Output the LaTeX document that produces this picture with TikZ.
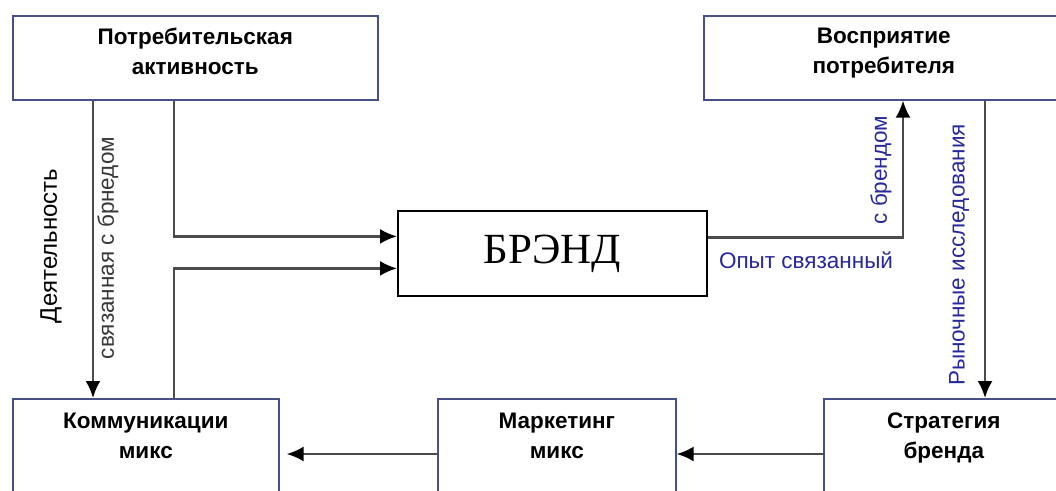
\documentclass[tikz,border=0pt]{standalone}
\usepackage{fontspec}
\setmainfont{Liberation Sans}
\newfontfamily\brandfont{Liberation Serif}
\usetikzlibrary{arrows.meta,calc}
\definecolor{boxline}{RGB}{70,80,135}
\definecolor{connline}{RGB}{75,75,75}
\definecolor{lblue}{RGB}{40,40,155}
\definecolor{lgray}{RGB}{55,55,55}
\tikzset{
  box/.style={draw=boxline, line width=1.6pt, rectangle, inner sep=0pt, anchor=north west},
  boxtext/.style={anchor=north, align=center, inner sep=0pt, font=\fontsize{22.5}{30}\selectfont\bfseries},
  conn/.style={draw=connline, line width=2.4pt, -{Latex[length=17pt,width=15pt,color=black]}},
  vlabel/.style={rotate=90, inner sep=0pt},
  blbl/.style={text=lblue, font=\fontsize{22.5}{25}\selectfont},
}
\begin{document}
\begin{tikzpicture}[x=1pt,y=-1pt]
\clip (0,0) rectangle (1056,490);
\fill[white] (0,0) rectangle (1056,490);
% boxes
\node[box, minimum width=365pt, minimum height=84pt] (act) at (12,15) {};
\node[box, minimum width=360pt, minimum height=84pt] (perc) at (703,15) {};
\node[box, draw=black, line width=1.8pt, minimum width=309pt, minimum height=85pt] (brand) at (397,210) {};
\node[box, minimum width=266pt, minimum height=120pt] (comm) at (12,398) {};
\node[box, minimum width=238pt, minimum height=120pt] (mark) at (437,398) {};
\node[box, minimum width=240pt, minimum height=120pt] (strat) at (823,398) {};
% box texts
\node[boxtext] (actT) at ([yshift=-13pt]act.north) {Потребительская\\активность};
\node[boxtext] (percT) at ([yshift=-13pt]perc.north) {Восприятие\\потребителя};
\node[font=\brandfont\fontsize{43}{45}\selectfont] (brandT) at (brand.center) {БРЭНД};
\node[boxtext] (commT) at ([yshift=-15pt]comm.north) {Коммуникации\\микс};
\node[boxtext] (markT) at ([yshift=-15pt]mark.north) {Маркетинг\\микс};
\node[boxtext] (stratT) at ([yshift=-15pt]strat.north) {Стратегия\\бренда};
% connectors
\draw[conn] ([xshift=162pt]act.south west) |- ([yshift=17pt]brand.west);
\draw[conn] ([xshift=162pt]comm.north west) |- ([yshift=-15pt]brand.west);
\draw[conn] ([xshift=81pt]act.south west) -- ([xshift=81pt]comm.north west);
\draw[conn] ([yshift=16pt]brand.east) -| ([xshift=200pt]perc.south west);
\draw[conn] ([xshift=282pt]perc.south west) -- ([xshift=282pt]perc.south west |- strat.north);
\draw[conn] ([yshift=-56pt]strat.north west) -- ([yshift=-56pt]mark.north east);
\draw[conn, shorten >=7pt] ([yshift=-56pt]mark.north west) -- ([yshift=-56pt]comm.north east);
% labels
\node[vlabel, font=\fontsize{24}{26}\selectfont] (l1) at (51,246) {Деятельность};
\node[vlabel, text=lgray, font=\fontsize{22.5}{24}\selectfont] (l2) at (108,248) {связанная с брнедом};
\node[vlabel, blbl] (l3) at (881,170) {с брендом};
\node[blbl, inner sep=0pt] (l4) at (806,260) {Опыт связанный};
\node[vlabel, blbl] (l5) at (959,255) {Рыночные исследования};
\end{tikzpicture}
\end{document}
